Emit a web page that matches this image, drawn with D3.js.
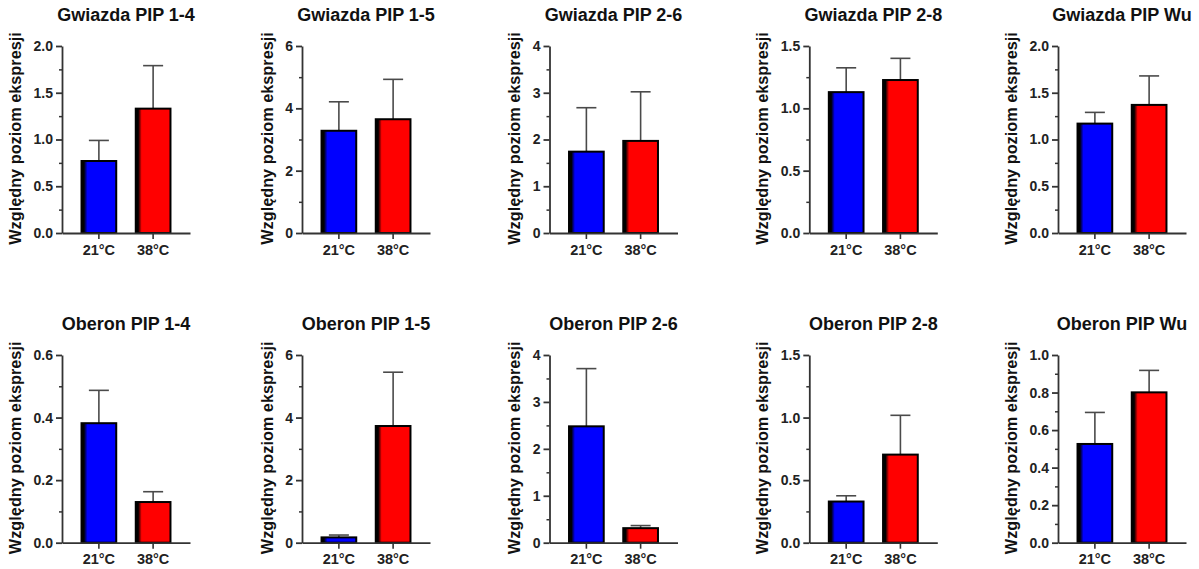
<!DOCTYPE html>
<html><head><meta charset="utf-8">
<script src="https://cdn.jsdelivr.net/npm/d3@7"></script>
<style>
body{margin:0;background:#fff}
svg text{font-family:"Liberation Sans",Arial,Helvetica,sans-serif;font-weight:bold}
</style>
</head><body>
<svg id="chart" width="1199" height="569"></svg>
<script>
// ---- data ----
const titles = ["Gwiazda PIP 1-4","Gwiazda PIP 1-5","Gwiazda PIP 2-6","Gwiazda PIP 2-8","Gwiazda PIP Wu",
                "Oberon PIP 1-4","Oberon PIP 1-5","Oberon PIP 2-6","Oberon PIP 2-8","Oberon PIP Wu"];
const categories = ["21°C","38°C"];
const yAxisTitle = "Względny poziom ekspresji";
const yMax  = [2, 6, 4, 1.5, 2,   0.6, 6, 4, 1.5, 1.0];
const yStep = [0.5, 2, 1, 0.5, 0.5, 0.2, 2, 1, 0.5, 0.2];
const tickDecimals = [1, 0, 0, 1, 1, 1, 0, 0, 1, 1];
const mean21 = [0.77, 3.28, 1.74, 1.13, 1.17,  0.382, 0.17, 2.48, 0.329, 0.526];
const mean38 = [1.33, 3.65, 1.97, 1.227, 1.37, 0.130, 3.73, 0.31, 0.704, 0.801];
const sd21   = [0.22, 0.93, 0.94, 0.195, 0.12, 0.105, 0.075, 1.23, 0.046, 0.168];
const sd38   = [0.46, 1.28, 1.05, 0.174, 0.31, 0.033, 1.72, 0.055, 0.314, 0.117];
const barColors = ["#0000ff", "#ff0000"];

// ---- layout ----
const colAxisX = [62, 302, 549.5, 809.3, 1058];
const rowTop = [46, 355];
const rowBottom = [233, 542.7];
const plotW = 128;

const svg = d3.select("#chart");
const defs = svg.append("defs");
barColors.forEach((c, i) => {
  const g = defs.append("linearGradient").attr("id", "grad" + i)
    .attr("x1", 0).attr("x2", 1).attr("y1", 0).attr("y2", 0);
  g.append("stop").attr("offset", 0).attr("stop-color", "#000");
  g.append("stop").attr("offset", 0.07).attr("stop-color", "#000");
  g.append("stop").attr("offset", 0.17).attr("stop-color", c);
  g.append("stop").attr("offset", 1).attr("stop-color", c);
});

const axisColor = "#333";

titles.forEach((title, i) => {
  const row = Math.floor(i / 5), col = i % 5;
  const ax = colAxisX[col];
  const top = rowTop[row], bottom = rowBottom[row];
  const g = svg.append("g");

  const y = d3.scaleLinear().domain([0, yMax[i]]).range([bottom, top]);
  const x = d3.scaleBand().domain(categories).range([ax, ax + plotW]).paddingInner(0.36).paddingOuter(0.36);

  const nMaj = Math.round(yMax[i] / yStep[i]);
  const majors = d3.range(nMaj + 1).map(k => +(k * yStep[i]).toFixed(6));
  const minors = d3.range(nMaj).map(k => +((k + 0.5) * yStep[i]).toFixed(6));

  const means = [mean21[i], mean38[i]];
  const sds = [sd21[i], sd38[i]];
  const data = categories.map((c, k) => ({cat: c, mean: means[k], sd: sds[k], k}));

  // error bars (upper only)
  const eb = g.selectAll(".eb").data(data).enter().append("g");
  eb.append("line")
    .attr("x1", d => x(d.cat) + x.bandwidth() / 2).attr("x2", d => x(d.cat) + x.bandwidth() / 2)
    .attr("y1", d => y(d.mean)).attr("y2", d => y(d.mean + d.sd))
    .attr("stroke", "#4a4a4a").attr("stroke-width", 1.6);
  eb.append("line")
    .attr("x1", d => x(d.cat) + x.bandwidth() / 2 - 10).attr("x2", d => x(d.cat) + x.bandwidth() / 2 + 10)
    .attr("y1", d => y(d.mean + d.sd)).attr("y2", d => y(d.mean + d.sd))
    .attr("stroke", "#4a4a4a").attr("stroke-width", 1.6);

  // bars
  g.selectAll(".bar").data(data).enter().append("rect")
    .attr("x", d => x(d.cat)).attr("width", x.bandwidth())
    .attr("y", d => y(d.mean)).attr("height", d => y(0) - y(d.mean))
    .attr("fill", d => `url(#grad${d.k})`)
    .attr("stroke", "#000").attr("stroke-width", 2);

  // y axis minor
  g.append("g").attr("transform", `translate(${ax},0)`)
    .call(d3.axisLeft(y).tickValues(minors).tickSize(3).tickFormat(""))
    .call(s => s.select(".domain").remove())
    .call(s => s.selectAll("line").attr("stroke", axisColor).attr("stroke-width", 1.5));

  // y axis major
  const yA = g.append("g").attr("transform", `translate(${ax},0)`)
    .call(d3.axisLeft(y).tickValues(majors).tickSize(6).tickSizeOuter(0).tickPadding(3)
      .tickFormat(d => d.toFixed(tickDecimals[i])));
  yA.select(".domain").attr("stroke", axisColor).attr("stroke-width", 1.8);
  yA.selectAll("line").attr("stroke", axisColor).attr("stroke-width", 1.8);
  yA.selectAll("text").attr("font-size", 14).attr("fill", "#222")
    .style("font-family", '"Liberation Sans",Arial,sans-serif').style("font-weight", "bold");

  // x axis
  const xA = g.append("g").attr("transform", `translate(0,${bottom})`)
    .call(d3.axisBottom(x).tickSize(6).tickSizeOuter(0).tickPadding(5.5));
  xA.select(".domain").attr("stroke", axisColor).attr("stroke-width", 1.8);
  xA.selectAll("line").attr("stroke", axisColor).attr("stroke-width", 1.6);
  xA.selectAll("text").attr("font-size", 14.5).attr("fill", "#222")
    .style("font-family", '"Liberation Sans",Arial,sans-serif').style("font-weight", "bold");

  // y axis title
  let maxW = 0;
  yA.selectAll("text").each(function(){ maxW = Math.max(maxW, this.getBBox().width); });
  const lx = ax - 9 - maxW - 18;
  g.append("text")
    .attr("transform", `translate(${lx},${(top + bottom) / 2 - 1}) rotate(-90)`)
    .attr("text-anchor", "middle").attr("dy", "0.36em")
    .attr("font-size", 16.3).attr("fill", "#111")
    .text(yAxisTitle);

  // title
  g.append("text")
    .attr("x", ax + plotW / 2).attr("y", top - 25.5)
    .attr("text-anchor", "middle")
    .attr("font-size", 18).attr("fill", "#111")
    .text(title);
});
</script>
</body></html>
